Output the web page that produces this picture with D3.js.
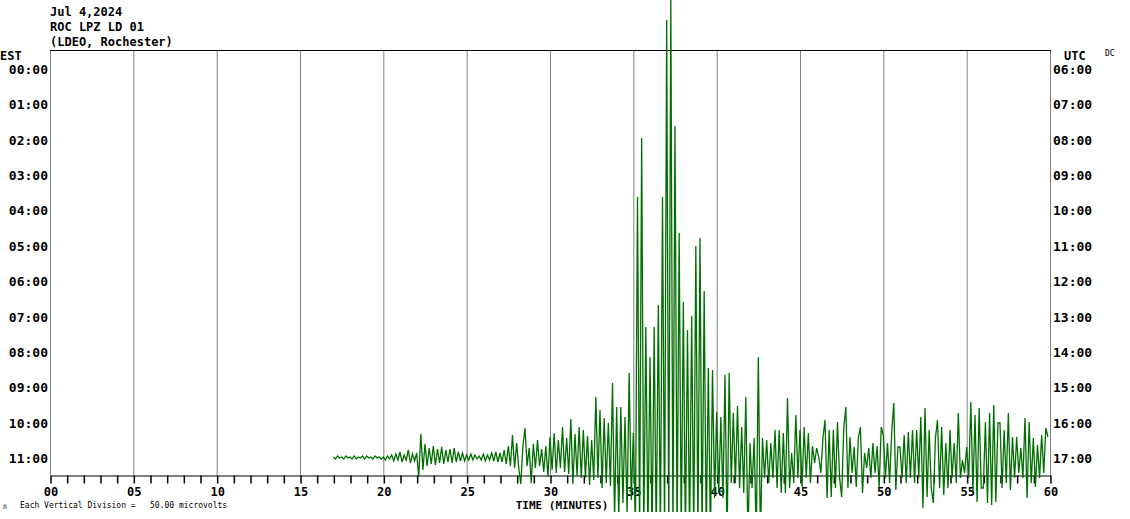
<!DOCTYPE html>
<html>
<head>
<meta charset="utf-8">
<script src="https://cdn.jsdelivr.net/npm/d3@7"></script>
<style>
  body { margin: 0; background: #fff; }
  text { font-family: "DejaVu Sans Mono", "Liberation Mono", monospace; font-weight: bold; fill: #000; }
</style>
</head>
<body>
<div id="heli"></div>
<script>
var svgWidth = 1130;
var svgHeight = 519;

var margin = { top: 50, right: 80, bottom: 44, left: 50 };

// header text
var titleLines = ["Jul 4,2024", "ROC LPZ LD 01", "(LDEO, Rochester)"];

// row labels (one line per hour)
var estHours = ["00:00", "01:00", "02:00", "03:00", "04:00", "05:00",
                "06:00", "07:00", "08:00", "09:00", "10:00", "11:00"];
var utcHours = ["06:00", "07:00", "08:00", "09:00", "10:00", "11:00",
                "12:00", "13:00", "14:00", "15:00", "16:00", "17:00"];

// minutes axis
var minuteLabels = ["00", "05", "10", "15", "20", "25", "30", "35", "40", "45", "50", "55", "60"];

// trace on the 11:00 row, counts relative to row baseline, 8 samples per minute
var traceRow = 11;
var traceStartMinute = 17;
var sampleStep = 0.125;
var traceValues = [
  1,-1,2,0,1,-1,2,0,            // 17
  1,-1,2,-1,1,0,2,-1,           // 18
  2,0,1,-1,2,0,1,-1,            // 19
  1,-2,2,-1,3,-3,4,-2,          // 20
  6,-4,3,-2,8,-5,4,-3,          // 21
  5,-19,24,-12,14,-8,10,-6,     // 22
  12,-7,9,-5,11,-6,8,-4,        // 23
  9,-5,10,-4,6,-3,5,-3,         // 24
  3,-2,4,-2,3,-1,2,-2,          // 25
  4,-3,3,-2,5,-3,6,-4,          // 26
  5,-4,8,-6,12,-8,23,-10,       // 27
  15,-10,-26,12,30,-8,10,-25,   // 28
  14,-10,18,-8,9,-14,12,-19,    // 29
  21,-12,25,-15,18,-10,31,-14,  // 30
  20,-16,39,-26,24,-18,31,-20,  // 31
  28,-20,22,-27,18,-22,61,-20,  // 32
  48,-30,40,-25,35,-28,75,-60,  // 33
  51,-60,51,-45,41,-55,85,-42,  // 34
  25,-70,261,-80,320,-80,131,-75, // 35
  101,-80,131,-80,153,-80,261,-80, // 36
  438,-80,458,-80,332,-80,225,-80, // 37
  156,-80,128,-80,142,-80,212,-80, // 38
  220,-80,167,-80,90,-80,88,-40,   // 39
  46,-35,41,-40,83,-80,85,-25,  // 40
  45,-25,52,-30,31,-35,61,-80,  // 41
  15,-30,20,-80,101,-80,20,-20, // 42
  18,-25,15,-20,28,-30,28,-35,  // 43
  25,-35,60,-30,5,-25,43,-20,   // 44
  28,-29,31,-20,25,-25,12,-5,   // 45
  10,1,-15,20,38,-40,28,-39,    // 46
  28,-30,36,-20,-39,30,51,-30,  // 47
  21,-15,11,-29,20,31,-35,5,    // 48
  -10,10,-20,15,-15,12,-29,31,  // 49
  23,-20,15,-25,25,55,-32,11,   // 50
  11,-20,23,-25,26,-20,28,-25,  // 51
  28,-20,41,-50,50,-39,28,-30,  // 52
  -45,20,38,-30,31,-37,15,-30,  // 53
  28,-20,15,-25,45,-20,-2,-15,  // 54
  11,-20,56,-35,43,-44,50,-30,  // 55
  -30,36,-45,45,-47,53,-44,35,  // 56
  35,-30,28,-25,45,-32,21,-20,  // 57
  21,-15,10,-20,40,-40,36,-25,  // 58
  20,-29,13,-20,23,-15,30,21    // 59
];

var width = svgWidth - margin.left - margin.right;
var height = 425;

var svg = d3.select("#heli")
  .append("svg")
  .attr("width", svgWidth)
  .attr("height", svgHeight);

// scales
var xScale = d3.scaleLinear().domain([0, 60]).range([margin.left, margin.left + width]);
var rowScale = d3.scaleLinear().domain([0, 11]).range([69, 458]);
var ampScale = d3.scaleLinear().domain([-100, 100]).range([100, -100]);

var plotBottom = margin.top + height;

// vertical grid every 5 minutes
svg.append("g")
  .selectAll("line")
  .data(d3.range(0, 61, 5))
  .enter()
  .append("line")
  .attr("x1", d => xScale(d) + 0.5)
  .attr("x2", d => xScale(d) + 0.5)
  .attr("y1", margin.top)
  .attr("y2", plotBottom)
  .attr("stroke", "#808080")
  .attr("stroke-width", 1);

// top border
svg.append("line")
  .attr("x1", xScale(0)).attr("x2", xScale(60) + 1)
  .attr("y1", margin.top + 0.5).attr("y2", margin.top + 0.5)
  .attr("stroke", "#000");

// bottom axis with minute ticks
var bottomAxis = d3.axisBottom(xScale)
  .tickValues(d3.range(0, 61, 1))
  .tickSize(8)
  .tickSizeOuter(0)
  .tickFormat("");

var xAxis = svg.append("g")
  .attr("transform", `translate(0.5, ${plotBottom + 0.5})`)
  .call(bottomAxis);
xAxis.select(".domain").attr("stroke", "#000").attr("stroke-width", 1.2);
xAxis.selectAll(".tick line").attr("stroke", "#000").attr("stroke-width", 1.5);

svg.append("g")
  .selectAll("text")
  .data(minuteLabels)
  .enter()
  .append("text")
  .attr("x", (d, i) => xScale(i * 5) + 1)
  .attr("y", 496)
  .attr("text-anchor", "middle")
  .style("font-size", "12px")
  .text(d => d);

// title block
svg.append("g")
  .selectAll("text")
  .data(titleLines)
  .enter()
  .append("text")
  .attr("x", 50)
  .attr("y", (d, i) => 16 + i * 15)
  .style("font-size", "12px")
  .text(d => d);

svg.append("text").attr("x", 0).attr("y", 60).style("font-size", "12px").text("EST");
svg.append("text").attr("x", 1064).attr("y", 60).style("font-size", "12px").text("UTC");
svg.append("text").attr("x", 1105).attr("y", 56).style("font-size", "8px").style("font-weight", "normal").text("DC");

// hour labels
svg.append("g")
  .selectAll("text")
  .data(estHours)
  .enter()
  .append("text")
  .attr("x", 48)
  .attr("y", (d, i) => rowScale(i) + 5)
  .attr("text-anchor", "end")
  .style("font-size", "13px")
  .text(d => d);

svg.append("g")
  .selectAll("text")
  .data(utcHours)
  .enter()
  .append("text")
  .attr("x", 1053)
  .attr("y", (d, i) => rowScale(i) + 5)
  .style("font-size", "13px")
  .text(d => d);

// footer
svg.append("text")
  .attr("x", 562)
  .attr("y", 509)
  .attr("text-anchor", "middle")
  .style("font-size", "11px")
  .text("TIME (MINUTES)");

svg.append("text")
  .attr("x", 3)
  .attr("y", 509)
  .style("font-size", "6px")
  .style("font-weight", "normal")
  .text("Л");

svg.append("text")
  .attr("x", 20)
  .attr("y", 508)
  .style("font-size", "8px")
  .style("font-weight", "normal")
  .attr("xml:space", "preserve")
  .text("Each Vertical Division =   50.00 microvolts");

// trace, clipped at the image bottom
svg.append("clipPath")
  .attr("id", "traceClip")
  .append("rect")
  .attr("x", 0).attr("y", 0)
  .attr("width", svgWidth).attr("height", 512);

var baseY = rowScale(traceRow);
var line = d3.line()
  .x((d, i) => xScale(traceStartMinute + i * sampleStep))
  .y(d => baseY + ampScale(d));

svg.append("path")
  .datum(traceValues)
  .attr("clip-path", "url(#traceClip)")
  .attr("d", line)
  .attr("fill", "none")
  .attr("stroke", "#006e00")
  .attr("stroke-width", 1.3);
</script>
</body>
</html>
